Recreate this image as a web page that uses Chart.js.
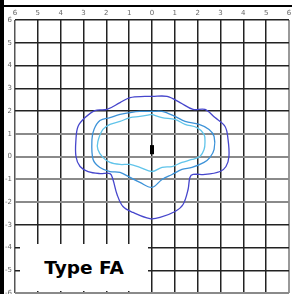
<!DOCTYPE html>
<html>
<head>
<meta charset="utf-8">
<script src="https://cdn.jsdelivr.net/npm/chart.js@4/dist/chart.umd.min.js"></script>
<style>
  html, body { margin: 0; padding: 0; background: #fff; }
  #wrap { position: relative; width: 292px; height: 294px; }
  canvas { position: absolute; left: 0; top: 0; }
  #label {
    position: absolute; left: 20px; top: 244px; width: 128px; height: 47px;
    background: #fff; font-family: "DejaVu Sans", sans-serif; font-weight: bold;
    font-size: 18.5px; color: #000; line-height: 47px; text-align: center;
  }
</style>
</head>
<body>
<div id="wrap">
  <canvas id="c" width="292" height="294"></canvas>
  <div id="label">Type FA</div>
</div>
<script>
// Tick values (labels show absolute values)
const tickValues = [-6, -5, -4, -3, -2, -1, 0, 1, 2, 3, 4, 5, 6];

// Outer contour (dark blue)
const outerX = [0, 0.66, 1.23, 1.80, 2.32, 2.76, 3.20, 3.33, 3.37, 3.24, 2.98, 2.32, 1.80, 1.66, 1.58, 1.36, 1.01, 0.35, -0.09, -0.83, -1.27, -1.53, -1.71, -1.84, -2.28, -2.80, -3.15, -3.33, -3.33, -3.24, -2.93, -2.50, -1.97, -1.40, -0.96, -0.31, 0];
const outerY = [2.64, 2.64, 2.37, 2.07, 2.07, 1.71, 1.32, 0.75, 0, -0.44, -0.66, -0.79, -0.79, -0.92, -1.45, -2.11, -2.42, -2.68, -2.73, -2.46, -2.20, -1.67, -1.01, -0.75, -0.75, -0.66, -0.44, 0, 0.75, 1.32, 1.71, 2.02, 2.07, 2.37, 2.59, 2.64, 2.64];

// Middle contour (medium blue)
const middleX = [0, 0.44, 1.01, 1.45, 2.06, 2.50, 2.72, 2.72, 2.54, 2.28, 1.75, 1.31, 0.88, 0.44, 0, -0.53, -0.96, -1.40, -1.84, -2.28, -2.58, -2.63, -2.54, -2.28, -1.84, -1.40, -0.96, -0.53, 0];
const middleY = [1.98, 1.98, 1.76, 1.54, 1.41, 1.19, 0.88, 0.31, -0.04, -0.26, -0.48, -0.57, -0.79, -1.01, -1.36, -1.14, -0.92, -0.70, -0.66, -0.48, -0.13, 0.75, 1.19, 1.58, 1.71, 1.85, 1.93, 1.98, 1.98];

// Inner contour (light cyan)
const innerX = [0, 0.44, 1.01, 1.45, 1.97, 2.28, 2.32, 2.28, 2.10, 1.75, 1.31, 0.88, 0.44, 0, -0.53, -0.96, -1.40, -1.84, -2.15, -2.37, -2.37, -2.15, -1.84, -1.40, -0.96, -0.53, 0];
const innerY = [1.85, 1.71, 1.63, 1.41, 1.27, 0.97, 0.62, 0.31, 0, -0.13, -0.26, -0.44, -0.48, -0.66, -0.48, -0.35, -0.35, -0.26, -0.04, 0.31, 0.66, 1.19, 1.41, 1.54, 1.71, 1.76, 1.85];

// Center marker
const markerX = [0, 0];
const markerY = [0.1, 0.5];

function pts(xs, ys) { return xs.map((x, i) => ({ x: x, y: ys[i] })); }

const frame = {
  id: 'frame',
  afterDraw(chart) {
    const ctx = chart.ctx;
    ctx.save();
    ctx.fillStyle = '#000';
    ctx.fillRect(0, 0, 4, 294);
    ctx.fillRect(0, 5, 292, 2);
    ctx.restore();
  }
};

function lineDs(xs, ys, color, w) {
  return {
    data: pts(xs, ys), showLine: true, borderColor: color, borderWidth: w,
    pointRadius: 0, tension: 0.35, fill: false
  };
}

new Chart(document.getElementById('c'), {
  type: 'scatter',
  data: {
    datasets: [
      lineDs(outerX, outerY, '#4646cc', 1.3),
      lineDs(middleX, middleY, '#3c92d8', 1.3),
      lineDs(innerX, innerY, '#60c4ea', 1.3),
      { data: pts(markerX, markerY), showLine: true, borderColor: '#000', borderWidth: 4, pointRadius: 0, tension: 0 }
    ]
  },
  options: {
    responsive: false, animation: false,
    layout: { padding: { left: 0, top: 0, right: 3, bottom: 1 } },
    plugins: { legend: { display: false }, tooltip: { enabled: false } },
    scales: {
      x: {
        type: 'linear', position: 'top', min: -6, max: 6,
        afterFit(s) { s.height = 20; s.paddingLeft = 0; s.paddingRight = 0; },
        afterBuildTicks(s) { s.ticks = tickValues.map(v => ({ value: v })); },
        ticks: { callback: v => String(Math.abs(v)), font: { size: 7, family: 'DejaVu Sans' }, color: '#666', padding: 3, maxRotation: 0, autoSkip: false },
        grid: {
          drawTicks: false,
          color: c => (c.tick && c.tick.value === 6) ? '#999' : (c.tick && c.tick.value === -6 ? '#555' : '#222'),
          lineWidth: c => (c.tick && c.tick.value === 6) ? 2 : 1.5
        },
        border: { display: false }
      },
      y: {
        type: 'linear', min: -6, max: 6,
        afterFit(s) { s.width = 15; s.paddingTop = 0; s.paddingBottom = 0; },
        afterBuildTicks(s) { s.ticks = tickValues.map(v => ({ value: v })); },
        ticks: { font: { size: 7, family: 'DejaVu Sans' }, color: '#666', padding: 3, autoSkip: false },
        grid: {
          drawTicks: false,
          color: c => [1, 0, -1, -2, -6].includes(c.tick && c.tick.value) ? '#8a8a8a' : '#222',
          lineWidth: c => [1, 0, -1, -2, -6].includes(c.tick && c.tick.value) ? 2 : 1.5
        },
        border: { display: false }
      }
    }
  },
  plugins: [frame]
});
</script>
</body>
</html>
